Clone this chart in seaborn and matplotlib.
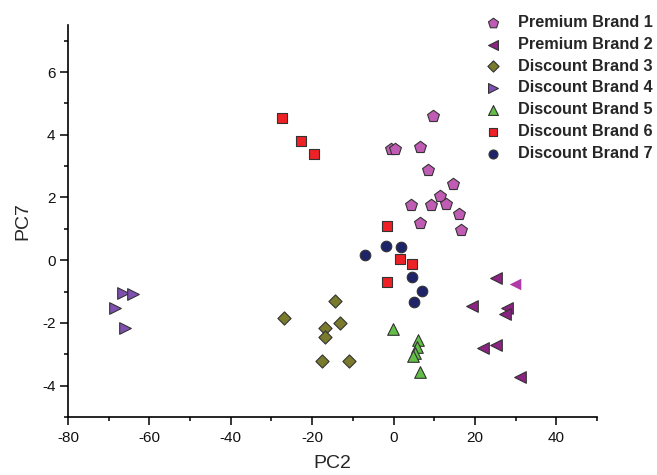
import numpy as np
import pandas as pd
import matplotlib
matplotlib.use("Agg")
import matplotlib.pyplot as plt
import seaborn as sns

brands = ["Premium Brand 1", "Premium Brand 2", "Discount Brand 3", "Discount Brand 4",
          "Discount Brand 5", "Discount Brand 6", "Discount Brand 7"]

pb1_x = [9.6, -0.6, 0.3, 6.4, 8.5, 14.6, 11.3, 4.2, 9.1, 13.0, 16.1, 6.6, 16.6]
pb1_y = [4.6, 3.54, 3.54, 3.6, 2.88, 2.43, 2.06, 1.75, 1.75, 1.8, 1.47, 1.18, 0.96]

pb2_x = [25.2, 19.2, 27.8, 27.4, 21.9, 25.3, 31.2]
pb2_y = [-0.56, -1.47, -1.54, -1.73, -2.81, -2.72, -3.74]
pb2_extra_x = [29.8]
pb2_extra_y = [-0.77]

db3_x = [-26.8, -14.4, -13.1, -16.8, -16.9, -17.5, -10.9]
db3_y = [-1.85, -1.31, -2.01, -2.16, -2.46, -3.2, -3.2]

db4_x = [-66.6, -64.0, -68.4, -66.1]
db4_y = [-1.04, -1.07, -1.51, -2.15]

db5_x = [-0.1, 6.1, 5.7, 5.2, 4.7, 6.5]
db5_y = [-2.18, -2.55, -2.78, -2.95, -3.07, -3.55]

db6_x = [-27.4, -22.7, -19.6, -1.5, -1.5, 1.5, 4.6]
db6_y = [4.53, 3.79, 3.4, 1.08, -0.68, 0.04, -0.12]

db7_x = [-7.0, -1.8, 1.9, 4.6, 7.0, 5.0]
db7_y = [0.15, 0.46, 0.41, -0.53, -0.98, -1.33]

xs = [pb1_x, pb2_x, db3_x, db4_x, db5_x, db6_x, db7_x]
ys = [pb1_y, pb2_y, db3_y, db4_y, db5_y, db6_y, db7_y]

colors = ["#C05CB4", "#8C2282", "#7A7A2C", "#7F50B2", "#62BE47", "#EE2226", "#1F2468"]
markers = ["p", "<", "D", ">", "^", "s", "o"]
sizes = [80, 70, 45, 70, 70, 48, 58]

rows = []
for b, xx, yy in zip(brands, xs, ys):
    for a, c in zip(xx, yy):
        rows.append({"PC2": a, "PC7": c, "Brand": b})
df = pd.DataFrame(rows)

sns.set_style("ticks")
plt.rcParams["font.family"] = ["Liberation Sans", "DejaVu Sans"]
plt.rcParams["axes.unicode_minus"] = False

fig = plt.figure(figsize=(6.57, 4.75), dpi=100)
ax = fig.add_axes([68/657, 1 - 417/475, (597 - 68)/657, (417 - 25)/475])

for b, col, m, s in zip(brands, colors, markers, sizes):
    sub = df[df["Brand"] == b]
    sns.scatterplot(data=sub, x="PC2", y="PC7", ax=ax, color=col, marker=m, s=s,
                    edgecolor="#333333", linewidth=0.8, label=b, zorder=3)

extra = pd.DataFrame({"PC2": pb2_extra_x, "PC7": pb2_extra_y})
sns.scatterplot(data=extra, x="PC2", y="PC7", ax=ax, color="#B03AA6", marker="<", s=70,
                linewidth=0, legend=False, zorder=3)

ax.set_xlim(-80, 50)
ax.set_ylim(-5, 7.5)
ax.set_xticks([-80, -60, -40, -20, 0, 20, 40])
ax.set_xticks(np.arange(-80, 51, 10), minor=True)
ax.set_yticks([-4, -2, 0, 2, 4, 6])
ax.set_yticks(np.arange(-5, 7.6, 1), minor=True)
ax.tick_params(axis="both", which="major", direction="out", length=5.5, width=1.1,
               labelsize=11, color="black", labelcolor="#111111")
ax.tick_params(axis="x", which="major", pad=4.5)
ax.tick_params(axis="both", which="minor", direction="out", length=3, width=1.1, color="black")
for sp in ["left", "bottom"]:
    ax.spines[sp].set_linewidth(1.2)
    ax.spines[sp].set_color("black")
sns.despine(ax=ax)
ax.set_xlabel("PC2", fontsize=14, labelpad=7)
ax.set_ylabel("PC7", fontsize=14, labelpad=8)

handles, labels = ax.get_legend_handles_labels()
ax.legend(handles, labels, loc="upper left", bbox_to_anchor=(477.7/657, 1 - 15/475),
          bbox_transform=fig.transFigure, frameon=False, borderpad=0, borderaxespad=0,
          handlelength=1.9, handletextpad=0.55, labelspacing=0.42, markerscale=0.85,
          prop={"weight": "bold", "size": 11.7})

fig.savefig("out.png", dpi=100)
